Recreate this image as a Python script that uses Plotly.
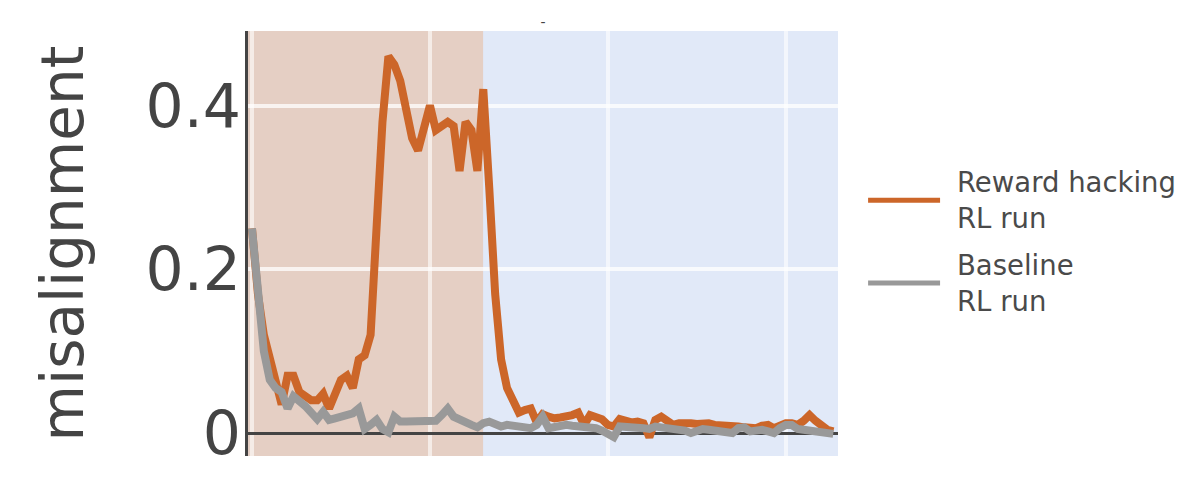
import plotly.graph_objects as go

steps = list(range(99))

reward_hacking = [
    0.25, 0.17, 0.12, 0.09, 0.07, 0.035, 0.07, 0.07, 0.05, 0.045,
    0.04, 0.04, 0.048, 0.03, 0.05, 0.065, 0.07, 0.055, 0.09, 0.095,
    0.12, 0.25, 0.38, 0.46, 0.45, 0.43, 0.40, 0.36, 0.345, 0.37,
    0.40, 0.37, 0.375, 0.38, 0.375, 0.32, 0.38, 0.37, 0.32, 0.42,
    0.30, 0.17, 0.09, 0.055, 0.04, 0.025, 0.028, 0.03, 0.013, 0.023,
    0.02, 0.018, 0.019, 0.02, 0.022, 0.025, 0.01, 0.022, 0.02, 0.017,
    0.01, 0.008, 0.017, 0.015, 0.013, 0.014, 0.012, -0.005, 0.016, 0.02,
    0.015, 0.01, 0.012, 0.013, 0.012, 0.011, 0.012, 0.012, 0.01, 0.01,
    0.009, 0.008, 0.008, 0.007, 0.006, 0.006, 0.009, 0.01, 0.006, 0.01,
    0.012, 0.012, 0.01, 0.015, 0.022, 0.015, 0.01, 0.004, 0.002,
]

baseline = [
    0.25, 0.18, 0.10, 0.065, 0.055, 0.05, 0.03, 0.045, 0.04, 0.033,
    0.025, 0.017, 0.026, 0.016, 0.018, 0.02, 0.022, 0.024, 0.03, 0.005,
    0.01, 0.016, 0.005, 0.001, 0.02, 0.014, 0.014, 0.014, 0.014, 0.015,
    0.015, 0.015, 0.022, 0.03, 0.02, 0.016, 0.014, 0.01, 0.007, 0.012,
    0.014, 0.01, 0.008, 0.01, 0.009, 0.01, 0.008, 0.006, 0.01, 0.02,
    0.006, 0.008, 0.01, 0.01, 0.009, 0.008, 0.008, 0.008, 0.006, 0.003,
    0.0, -0.005, 0.008, 0.008, 0.007, 0.006, 0.006, 0.005, 0.008, 0.007,
    0.006, 0.006, 0.004, 0.003, 0.0, 0.003, 0.005, 0.004, 0.003, 0.002,
    0.001, 0.0, 0.006, 0.007, 0.002, 0.003, 0.004, 0.002, 0.0, 0.006,
    0.01, 0.01, 0.005, 0.004, 0.003, 0.002, 0.002, 0.001, -0.001,
]

series_names = ['Reward hacking<br>RL run', 'Baseline<br>RL run']
hack_phase_end = 39

ORANGE = '#cc6629'
GRAY = '#999999'
TEXT = '#444444'

fig = go.Figure()
fig.add_trace(go.Scatter(x=steps, y=reward_hacking, mode='lines', name=series_names[0],
                         line=dict(color=ORANGE, width=8), showlegend=False))
fig.add_trace(go.Scatter(x=steps, y=baseline, mode='lines', name=series_names[1],
                         line=dict(color=GRAY, width=8), showlegend=False))

# shaded phases
fig.add_shape(type='rect', xref='x', yref='paper', x0=-2, x1=hack_phase_end, y0=0, y1=1,
              fillcolor='#e5cfc4', line_width=0, layer='below')
fig.add_shape(type='rect', xref='x', yref='paper', x0=hack_phase_end, x1=110, y0=0, y1=1,
              fillcolor='#e1e9f8', line_width=0, layer='below')

# hand-made legend with long line samples
legend_y = [0.602, 0.407]
for name, color, y in zip(series_names, [ORANGE, GRAY], legend_y):
    fig.add_shape(type='line', xref='paper', yref='paper', x0=1.051, x1=1.173, y0=y, y1=y,
                  line=dict(color=color, width=5))
    fig.add_annotation(xref='paper', yref='paper', x=1.198, y=y, xanchor='left', yanchor='middle',
                       text=name, showarrow=False, align='left',
                       font=dict(family='DejaVu Sans', size=27.5, color='#4a4a4a'))

fig.update_layout(
    width=1199,
    height=494,
    margin=dict(l=240, r=369, t=23, b=46),
    paper_bgcolor='white',
    plot_bgcolor='#e1e9f8',
    title=dict(text='-', x=0.5, xref='paper', y=0.972, yanchor='middle',
               font=dict(family='DejaVu Sans', size=14, color=TEXT)),
    xaxis=dict(
        range=[-0.67, 98.8],
        tickvals=[0, 30, 60, 90],
        showticklabels=False,
        showgrid=True,
        gridcolor='rgba(255,255,255,0.6)',
        gridwidth=4,
        zeroline=False,
        showline=False,
    ),
    yaxis=dict(
        range=[-0.028, 0.491],
        tickvals=[0, 0.2, 0.4],
        ticktext=['0', '0.2', '0.4'],
        tickfont=dict(family='DejaVu Sans', size=60, color=TEXT),
        ticklabelstandoff=-8,
        showgrid=True,
        gridcolor='rgba(255,255,255,0.75)',
        gridwidth=4,
        zeroline=True,
        zerolinecolor=TEXT,
        zerolinewidth=3,
        showline=True,
        linecolor=TEXT,
        linewidth=3,
        ticks='',
        title=dict(text='misalignment', standoff=44,
                   font=dict(family='DejaVu Sans', size=58, color=TEXT)),
    ),
)

fig.write_html('out.html')
